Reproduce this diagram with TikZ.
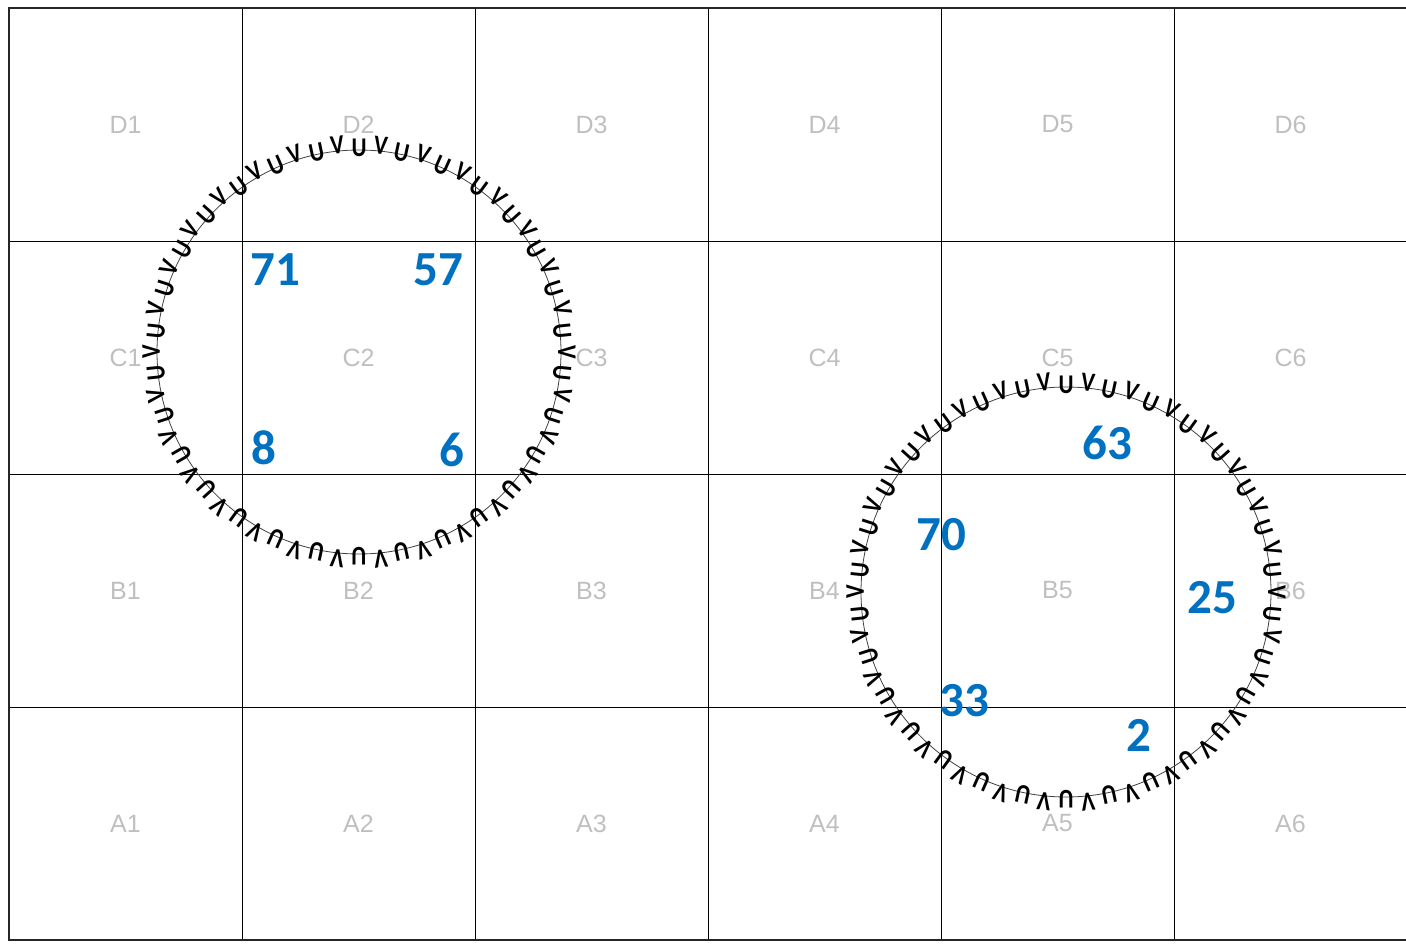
\documentclass[tikz,border=0pt]{standalone}
\usepackage{fontspec}
\usetikzlibrary{calc}
\setmainfont{Liberation Sans}
\newfontfamily\numfont{Carlito}
\newfontfamily\glyphfont[FakeStretch=0.85]{Carlito}
\definecolor{numblue}{HTML}{0070C0}
\definecolor{celllab}{HTML}{BFBFBF}
\begin{document}
\begin{tikzpicture}[x=1pt,y=1pt,
  gridline/.style={black,line width=0.9pt},
  border/.style={black!85,line width=2pt},
  celltext/.style={text=celllab,font=\fontsize{25}{28}\selectfont,inner sep=0pt},
  numtext/.style={text=numblue,font=\numfont\bfseries\fontsize{49}{52}\selectfont,inner sep=0pt},
  ring/.style={black!75,line width=0.8pt},
  glyph/.style={font=\glyphfont\bfseries\fontsize{27}{29}\selectfont,inner sep=0pt,anchor=south}]
\useasboundingbox (0,0) rectangle (1406,-947);
\clip (0,0) rectangle (1406,-947);
% grid
\foreach \x in {242,475,708,941,1174} \draw[gridline] (\x,-8) -- (\x,-940);
\foreach \y in {241,474,707} \draw[gridline] (9,-\y) -- (1410,-\y);
\draw[border] (1410,-8) -- (9,-8) -- (9,-940) -- (1410,-940);
% cell labels
\foreach \r/\yy in {D/124.5,C/357.5,B/590.5,A/823.5}{
  \foreach \c/\xx in {1/125.5,2/358.5,3/591.5,4/824.5,5/1057.5,6/1290.5}{
    \node[celltext] (lab\r\c) at (\xx,-\yy) {\r\c};
  }
}
% circles
\coordinate (ca) at (359,-352);
\coordinate (cb) at (1066,-592);
\draw[ring] (ca) circle (202);
\draw[ring] (cb) circle (205);
\foreach \k in {0,...,29}{
  \node[glyph,rotate={-12*\k}] (ua\k) at ($(ca)+({90-12*\k}:195)$) {U};
  \node[glyph,rotate={-12*\k-6}] (va\k) at ($(ca)+({84-12*\k}:199)$) {V};
  \node[glyph,rotate={-12*\k}] (ub\k) at ($(cb)+({90-12*\k}:198)$) {U};
  \node[glyph,rotate={-12*\k-6}] (vb\k) at ($(cb)+({84-12*\k}:202)$) {V};
}
% numbers
\node[numtext] (n71) at (275,-270) {71};
\node[numtext] (n57) at (438,-270) {57};
\node[numtext] (n8) at (264,-448) {8};
\node[numtext] (n6) at (452,-450) {6};
\node[numtext] (n63) at (1107,-443) {63};
\node[numtext] (n70) at (941,-535) {70};
\node[numtext] (n25) at (1212,-598) {25};
\node[numtext] (n33) at (964,-701) {33};
\node[numtext] (n2) at (1139,-735) {2};
\end{tikzpicture}
\end{document}
